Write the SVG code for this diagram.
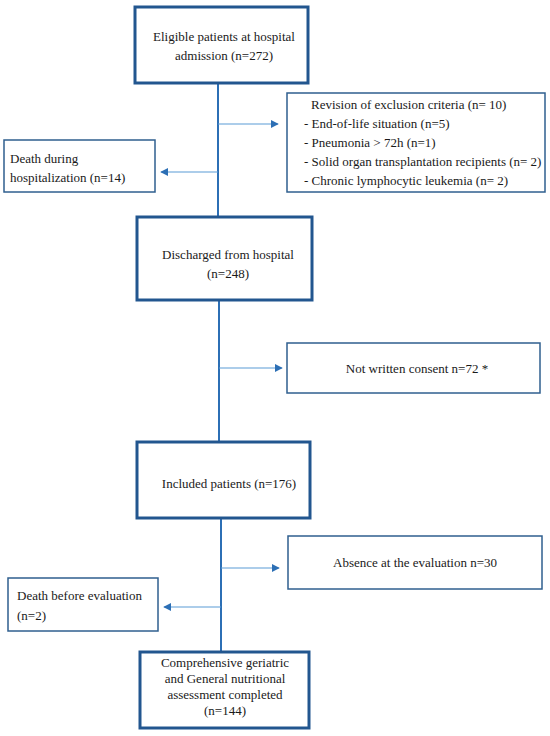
<svg xmlns="http://www.w3.org/2000/svg" width="550" height="736" viewBox="0 0 550 736">
<defs>
<style>
text{font-family:"Liberation Serif","Times New Roman",serif;font-size:13px;fill:#1a1a1a}
.c{text-anchor:middle}
.main{fill:#fff;stroke:#22568f;stroke-width:3}
.side{fill:#fff;stroke:#2f5f8f;stroke-width:1.5}
.trunk{stroke:#2c6fb5;stroke-width:2;fill:none}
.branch{stroke:#5b9bd5;stroke-width:1.2;fill:none}
</style>
<marker id="ah" viewBox="0 0 10 10" refX="9" refY="5" markerWidth="8" markerHeight="8" markerUnits="userSpaceOnUse" orient="auto">
<path d="M0,0 L10,5 L0,10 z" fill="#2c6fb5"/>
</marker>
</defs>
<rect width="550" height="736" fill="#fff"/>
<g id="connectors">
<line class="trunk" x1="218" y1="84" x2="218" y2="216"/>
<line class="trunk" x1="219" y1="301" x2="219" y2="441"/>
<line class="trunk" x1="221" y1="519" x2="221" y2="651"/>
<line class="branch" x1="218" y1="124" x2="278" y2="124" marker-end="url(#ah)"/>
<line class="branch" x1="218" y1="172" x2="161" y2="172" marker-end="url(#ah)"/>
<line class="branch" x1="219" y1="368" x2="282" y2="368" marker-end="url(#ah)"/>
<line class="branch" x1="221" y1="568" x2="279" y2="568" marker-end="url(#ah)"/>
<line class="branch" x1="221" y1="607" x2="164" y2="607" marker-end="url(#ah)"/>
</g>
<g id="n1">
<rect class="main" x="135" y="7" width="173" height="76"/>
<text class="c" x="224" y="41">Eligible patients at hospital</text>
<text class="c" x="224" y="60">admission (n=272)</text>
</g>
<g id="n2">
<rect class="side" x="287" y="93" width="258" height="99"/>
<text x="311" y="109">Revision of exclusion criteria (n= 10)</text>
<text x="304" y="128">- End-of-life situation (n=5)</text>
<text x="304" y="147">- Pneumonia &gt; 72h (n=1)</text>
<text x="304" y="166">- Solid organ transplantation recipients (n= 2)</text>
<text x="304" y="185">- Chronic lymphocytic leukemia (n= 2)</text>
</g>
<g id="n3">
<rect class="side" x="4" y="140" width="151" height="52"/>
<text x="10" y="163">Death during</text>
<text x="10" y="182">hospitalization (n=14)</text>
</g>
<g id="n4">
<rect class="main" x="137" y="217" width="175" height="83"/>
<text class="c" x="228" y="259">Discharged from hospital</text>
<text class="c" x="228" y="278">(n=248)</text>
</g>
<g id="n5">
<rect class="side" x="287" y="343" width="253" height="50"/>
<text class="c" x="417" y="373">Not written consent n=72 *</text>
</g>
<g id="n6">
<rect class="main" x="137" y="442" width="173" height="76"/>
<text class="c" x="229" y="488">Included patients (n=176)</text>
</g>
<g id="n7">
<rect class="side" x="288" y="536" width="254" height="53"/>
<text class="c" x="415" y="567">Absence at the evaluation n=30</text>
</g>
<g id="n8">
<rect class="side" x="8" y="578" width="150" height="53"/>
<text x="17" y="600">Death before evaluation</text>
<text x="17" y="620">(n=2)</text>
</g>
<g id="n9">
<rect class="main" x="140" y="652" width="169" height="76"/>
<text class="c" x="225" y="667">Comprehensive geriatric</text>
<text class="c" x="225" y="683">and General nutritional</text>
<text class="c" x="225" y="699">assessment completed</text>
<text class="c" x="225" y="715">(n=144)</text>
</g>
</svg>
